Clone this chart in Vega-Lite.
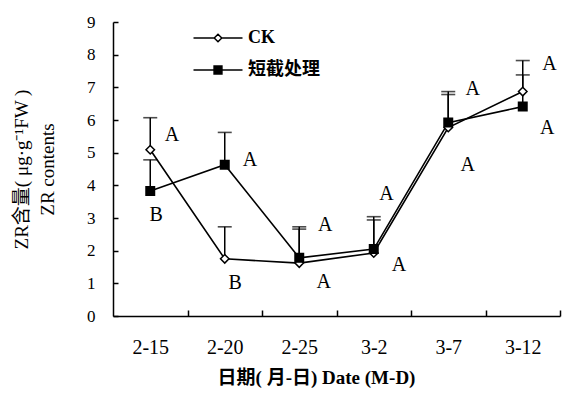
{
  "$schema": "https://vega.github.io/schema/vega-lite/v6.json",
  "width": 447,
  "height": 294,
  "autosize": "none",
  "padding": {"left": 113, "top": 22, "right": 3, "bottom": 84},
  "background": "white",
  "config": {
    "view": {"stroke": null},
    "font": "Liberation Serif",
    "axis": {"domainColor": "black", "tickColor": "black", "labelColor": "black", "titleColor": "black", "grid": false, "domainWidth": 1.5, "tickWidth": 1.5},
    "axisY": {"tickCount": 10, "tickSize": -5, "labelFontSize": 17, "labelPadding": 23, "labelOverlap": false, "labelFlush": false}
  },
  "datasets": {
    "main": [
      {"date": "2-15", "idx": 1, "series": "CK", "value": 5.09, "upper": 6.07},
      {"date": "2-20", "idx": 2, "series": "CK", "value": 1.75, "upper": 2.73},
      {"date": "2-25", "idx": 3, "series": "CK", "value": 1.62, "upper": 2.73},
      {"date": "3-2", "idx": 4, "series": "CK", "value": 1.93, "upper": 3.04},
      {"date": "3-7", "idx": 5, "series": "CK", "value": 5.77, "upper": 6.87},
      {"date": "3-12", "idx": 6, "series": "CK", "value": 6.87, "upper": 7.82},
      {"date": "2-15", "idx": 1, "series": "短截处理", "value": 3.83, "upper": 4.78},
      {"date": "2-20", "idx": 2, "series": "短截处理", "value": 4.63, "upper": 5.62},
      {"date": "2-25", "idx": 3, "series": "短截处理", "value": 1.78, "upper": 2.66},
      {"date": "3-2", "idx": 4, "series": "短截处理", "value": 2.05, "upper": 2.94},
      {"date": "3-7", "idx": 5, "series": "短截处理", "value": 5.92, "upper": 6.78},
      {"date": "3-12", "idx": 6, "series": "短截处理", "value": 6.41, "upper": 7.38}
    ],
    "letters": [
      {"pos": 1.29, "y": 5.55, "letter": "A"},
      {"pos": 1.08, "y": 3.1, "letter": "B"},
      {"pos": 2.34, "y": 4.79, "letter": "A"},
      {"pos": 2.14, "y": 1.01, "letter": "B"},
      {"pos": 3.35, "y": 2.79, "letter": "A"},
      {"pos": 3.33, "y": 1.04, "letter": "A"},
      {"pos": 4.17, "y": 3.74, "letter": "A"},
      {"pos": 4.34, "y": 1.56, "letter": "A"},
      {"pos": 5.33, "y": 6.96, "letter": "A"},
      {"pos": 5.26, "y": 4.63, "letter": "A"},
      {"pos": 6.36, "y": 7.7, "letter": "A"},
      {"pos": 6.33, "y": 5.77, "letter": "A"}
    ]
  },
  "resolve": {"scale": {"shape": "independent", "fill": "independent", "stroke": "independent"}, "legend": {"shape": "independent", "fill": "independent", "stroke": "independent"}},
  "layer": [
    {
      "data": {"name": "main"},
      "mark": {"type": "line", "color": "black", "strokeWidth": 1.6},
      "encoding": {
        "x": {
          "field": "idx", "type": "quantitative",
          "scale": {"domain": [0.5, 6.5], "nice": false, "zero": false},
          "axis": {
            "values": [1, 1.5, 2, 2.5, 3, 3.5, 4, 4.5, 5, 5.5, 6, 6.5],
            "labelExpr": "datum.value % 1 === 0 ? ['', '2-15', '2-20', '2-25', '3-2', '3-7', '3-12'][datum.value] : ''",
            "tickOpacity": {"condition": {"test": "datum.value % 1 === 0", "value": 0}, "value": 1},
            "tickSize": -6,
            "labelFontSize": 20,
            "labelPadding": 27,
            "labelFlush": false,
            "labelOverlap": false,
            "title": "日期( 月-日) Date (M-D)",
            "titleFont": "Liberation Serif, Noto Sans CJK SC",
            "titleFontSize": 19,
            "titleFontWeight": "bold",
            "titleX": 203,
            "titlePadding": 11
          }
        },
        "y": {
          "field": "value", "type": "quantitative",
          "scale": {"domain": [0, 9], "nice": false},
          "axis": {
            "values": [0, 1, 2, 3, 4, 5, 6, 7, 8, 9],
            "title": ["ZR含量( μg·g⁻¹FW )", "ZR contents"],
            "titleFont": "Liberation Serif, Noto Sans CJK SC",
            "titleFontSize": 19,
            "titleFontWeight": "normal",
            "titleLineHeight": 26,
            "titlePadding": 29
          }
        },
        "detail": {"field": "series"}
      }
    },
    {
      "data": {"name": "main"},
      "mark": {"type": "rule", "color": "black", "strokeWidth": 1.5},
      "encoding": {
        "x": {"field": "idx", "type": "quantitative"},
        "y": {"field": "value", "type": "quantitative"},
        "y2": {"field": "upper"}
      }
    },
    {
      "data": {"name": "main"},
      "mark": {"type": "tick", "orient": "horizontal", "color": "black", "size": 14, "thickness": 1.6},
      "encoding": {
        "x": {"field": "idx", "type": "quantitative"},
        "y": {"field": "upper", "type": "quantitative"}
      }
    },
    {
      "data": {"name": "main"},
      "mark": {"type": "point", "filled": false, "stroke": "black", "strokeWidth": 1.5, "opacity": 1, "size": 72},
      "encoding": {
        "x": {"field": "idx", "type": "quantitative"},
        "y": {"field": "value", "type": "quantitative"},
        "fill": {"condition": {"test": "datum.series === 'CK'", "value": "white"}, "value": "black"},
        "shape": {
          "field": "series", "type": "nominal",
          "scale": {"domain": ["CK", "短截处理"], "range": ["diamond", "square"]},
          "legend": null
        }
      }
    },
    {
      "data": {"name": "main"},
      "transform": [{"filter": "false"}],
      "mark": {"type": "point", "filled": true, "opacity": 1, "strokeWidth": 1.5},
      "encoding": {
        "x": {"field": "idx", "type": "quantitative"},
        "y": {"field": "value", "type": "quantitative"},
        "shape": {
          "field": "series", "type": "nominal",
          "scale": {"domain": ["CK", "短截处理"], "range": ["M-1.75,0H-0.27M0.27,0H1.75M0,-0.27L0.27,0L0,0.27L-0.27,0Z", "M-1.75,0H1.75M-0.28,-0.28H0.28V0.28H-0.28Z"]},
          "legend": {
            "title": null,
            "orient": "none",
            "legendX": 90,
            "legendY": 1,
            "padding": 0,
            "symbolSize": 784,
            "symbolStrokeWidth": 1.5,
            "symbolOpacity": 1,
            "rowPadding": 8,
            "labelOffset": 15,
            "labelFont": "Liberation Serif, Noto Sans CJK SC",
            "labelFontWeight": "bold",
            "labelFontSize": 18,
            "labelColor": "black"
          }
        },
        "fill": {
          "field": "series", "type": "nominal",
          "scale": {"domain": ["CK", "短截处理"], "range": ["white", "black"]},
          "legend": {
            "title": null,
            "orient": "none",
            "legendX": 90,
            "legendY": 1,
            "padding": 0,
            "symbolSize": 784,
            "symbolStrokeWidth": 1.5,
            "symbolOpacity": 1,
            "rowPadding": 8,
            "labelOffset": 15,
            "labelFont": "Liberation Serif, Noto Sans CJK SC",
            "labelFontWeight": "bold",
            "labelFontSize": 18,
            "labelColor": "black"
          }
        },
        "stroke": {
          "field": "series", "type": "nominal",
          "scale": {"domain": ["CK", "短截处理"], "range": ["black", "black"]},
          "legend": {
            "title": null,
            "orient": "none",
            "legendX": 90,
            "legendY": 1,
            "padding": 0,
            "symbolSize": 784,
            "symbolStrokeWidth": 1.5,
            "symbolOpacity": 1,
            "rowPadding": 8,
            "labelOffset": 15,
            "labelFont": "Liberation Serif, Noto Sans CJK SC",
            "labelFontWeight": "bold",
            "labelFontSize": 18,
            "labelColor": "black"
          }
        }
      }
    },
    {
      "data": {"name": "letters"},
      "mark": {"type": "text", "font": "Liberation Serif", "fontSize": 20, "color": "black", "align": "center", "baseline": "middle"},
      "encoding": {
        "x": {"field": "pos", "type": "quantitative"},
        "y": {"field": "y", "type": "quantitative"},
        "text": {"field": "letter"}
      }
    }
  ]
}
